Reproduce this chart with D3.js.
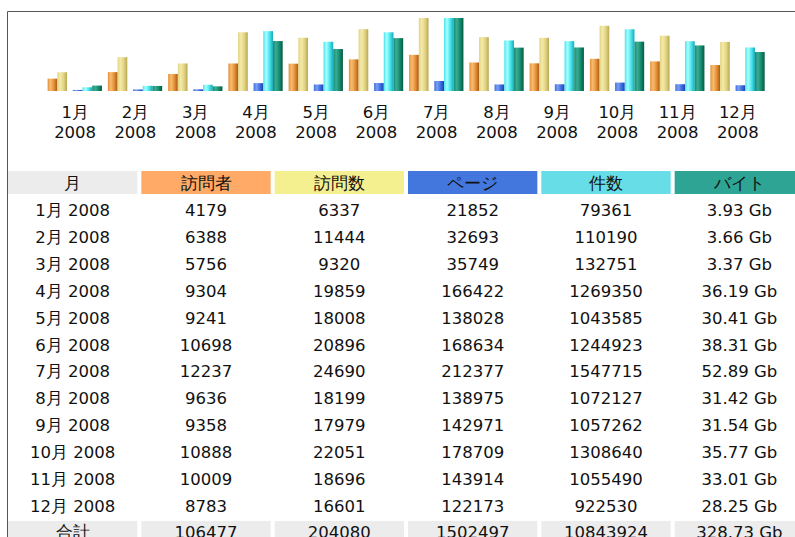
<!DOCTYPE html>
<html>
<head>
<meta charset="utf-8">
<script src="https://cdn.jsdelivr.net/npm/d3@7"></script>
<style>
  html, body { margin: 0; padding: 0; background: #fff; }
  svg { display: block; font-family: "DejaVu Sans", Verdana, sans-serif; }
</style>
</head>
<body>
<svg id="chart" width="795" height="537"></svg>
<script>
// monthly history data
const months = ["1月", "2月", "3月", "4月", "5月", "6月", "7月", "8月", "9月", "10月", "11月", "12月"];
const year = "2008";
const visitors = [4179, 6388, 5756, 9304, 9241, 10698, 12237, 9636, 9358, 10888, 10009, 8783];
const visits = [6337, 11444, 9320, 19859, 18008, 20896, 24690, 18199, 17979, 22051, 18696, 16601];
const pages = [21852, 32693, 35749, 166422, 138028, 168634, 212377, 138975, 142971, 178709, 143914, 122173];
const hits = [79361, 110190, 132751, 1269350, 1043585, 1244923, 1547715, 1072127, 1057262, 1308640, 1055490, 922530];
const bytesGb = [3.93, 3.66, 3.37, 36.19, 30.41, 38.31, 52.89, 31.42, 31.54, 35.77, 33.01, 28.25];
const headers = ["月", "訪問者", "訪問数", "ページ", "件数", "バイト"];
const totalLabel = "合計";
const totals = ["106477", "204080", "1502497", "10843924", "328.73 Gb"];

const svg = d3.select("#chart");
const fs = 16.5;

// frame
svg.append("path")
  .attr("d", "M7.5,537 V11.5 H795")
  .attr("fill", "none")
  .attr("stroke", "#555")
  .attr("stroke-width", 1);

// gradients for the bar images
const barColors = {
  u: ["#f8bc70", "#e49038", "#a85a12"],
  v: ["#f4eaa8", "#e2d484", "#b8a852"],
  p: ["#7aa0f2", "#3e6ee0", "#1a42b0"],
  h: ["#a8ffff", "#48e4ec", "#18a8b8"],
  k: ["#3cac94", "#148c6e", "#065a44"]
};
const defs = svg.append("defs");
Object.entries(barColors).forEach(([k, c]) => {
  const g = defs.append("linearGradient").attr("id", "g" + k)
    .attr("x1", 0).attr("x2", 1).attr("y1", 0).attr("y2", 0);
  g.append("stop").attr("offset", "0%").attr("stop-color", c[1]);
  g.append("stop").attr("offset", "30%").attr("stop-color", c[0]);
  g.append("stop").attr("offset", "65%").attr("stop-color", c[1]);
  g.append("stop").attr("offset", "100%").attr("stop-color", c[2]);
});

// scales
const baseY = 91, topY = 18;
const x = d3.scaleBand().domain(months).range([45, 768]).padding(0);
const yUV = d3.scaleLinear().domain([0, d3.max(visits)]).range([baseY, topY]);
const yPH = d3.scaleLinear().domain([0, d3.max(hits)]).range([baseY, topY]);
const yK = d3.scaleLinear().domain([0, d3.max(bytesGb)]).range([baseY, topY]);

const barW = 9.7;
const series = [
  { key: "u", vals: visitors, y: yUV, off: -27.5 },
  { key: "v", vals: visits, y: yUV, off: -17.8 },
  { key: "p", vals: pages, y: yPH, off: -2.3 },
  { key: "h", vals: hits, y: yPH, off: 7.4 },
  { key: "k", vals: bytesGb, y: yK, off: 17.1 }
];

const bars = svg.append("g");
series.forEach(s => {
  bars.selectAll(null)
    .data(months.map((m, i) => ({ m, v: s.vals[i] })))
    .enter()
    .append("rect")
    .attr("x", d => x(d.m) + x.bandwidth() / 2 + s.off)
    .attr("y", d => Math.min(s.y(d.v), baseY - 1))
    .attr("width", barW)
    .attr("height", d => Math.max(1, baseY - s.y(d.v)))
    .attr("fill", "url(#g" + s.key + ")");
});

// month labels under the bars
const lbl = svg.append("g").attr("font-size", fs).attr("fill", "#111").attr("text-anchor", "middle");
months.forEach(m => {
  const cx = x(m) + x.bandwidth() / 2;
  lbl.append("text").attr("x", cx).attr("y", 118).text(m);
  lbl.append("text").attr("x", cx).attr("y", 138).text(year);
});

// table
const colX = d3.scaleBand().domain(d3.range(6)).range([8, 804]).paddingInner(0.03);
const headFill = ["#ececec", "#ffaa66", "#f4f090", "#4477dd", "#66dde7", "#2ea495"];
const rowY = d3.scalePoint().domain(d3.range(12)).range([210, 506]);

const tbl = svg.append("g").attr("font-size", fs).attr("fill", "#111").attr("text-anchor", "middle");
headers.forEach((h, c) => {
  tbl.append("rect").attr("x", colX(c)).attr("y", 171)
    .attr("width", colX.bandwidth()).attr("height", 23).attr("fill", headFill[c]);
  tbl.append("text").attr("x", colX(c) + colX.bandwidth() / 2).attr("y", 189)
    .text(h);
});

const rows = months.map((m, i) => [
  m + " " + year,
  String(visitors[i]),
  String(visits[i]),
  String(pages[i]),
  String(hits[i]),
  bytesGb[i].toFixed(2) + " Gb"
]);
rows.forEach((r, i) => {
  r.forEach((t, c) => {
    tbl.append("text")
      .attr("x", colX(c) + colX.bandwidth() / 2)
      .attr("y", rowY(i) + 6)
      .text(t);
  });
});

// total row (cut by the bottom edge, as in the page capture)
[totalLabel].concat(totals).forEach((t, c) => {
  tbl.append("rect").attr("x", colX(c)).attr("y", 521)
    .attr("width", colX.bandwidth()).attr("height", 24).attr("fill", "#ececec");
  tbl.append("text")
    .attr("x", colX(c) + colX.bandwidth() / 2)
    .attr("y", 538)
    .text(t);
});
</script>
</body>
</html>
